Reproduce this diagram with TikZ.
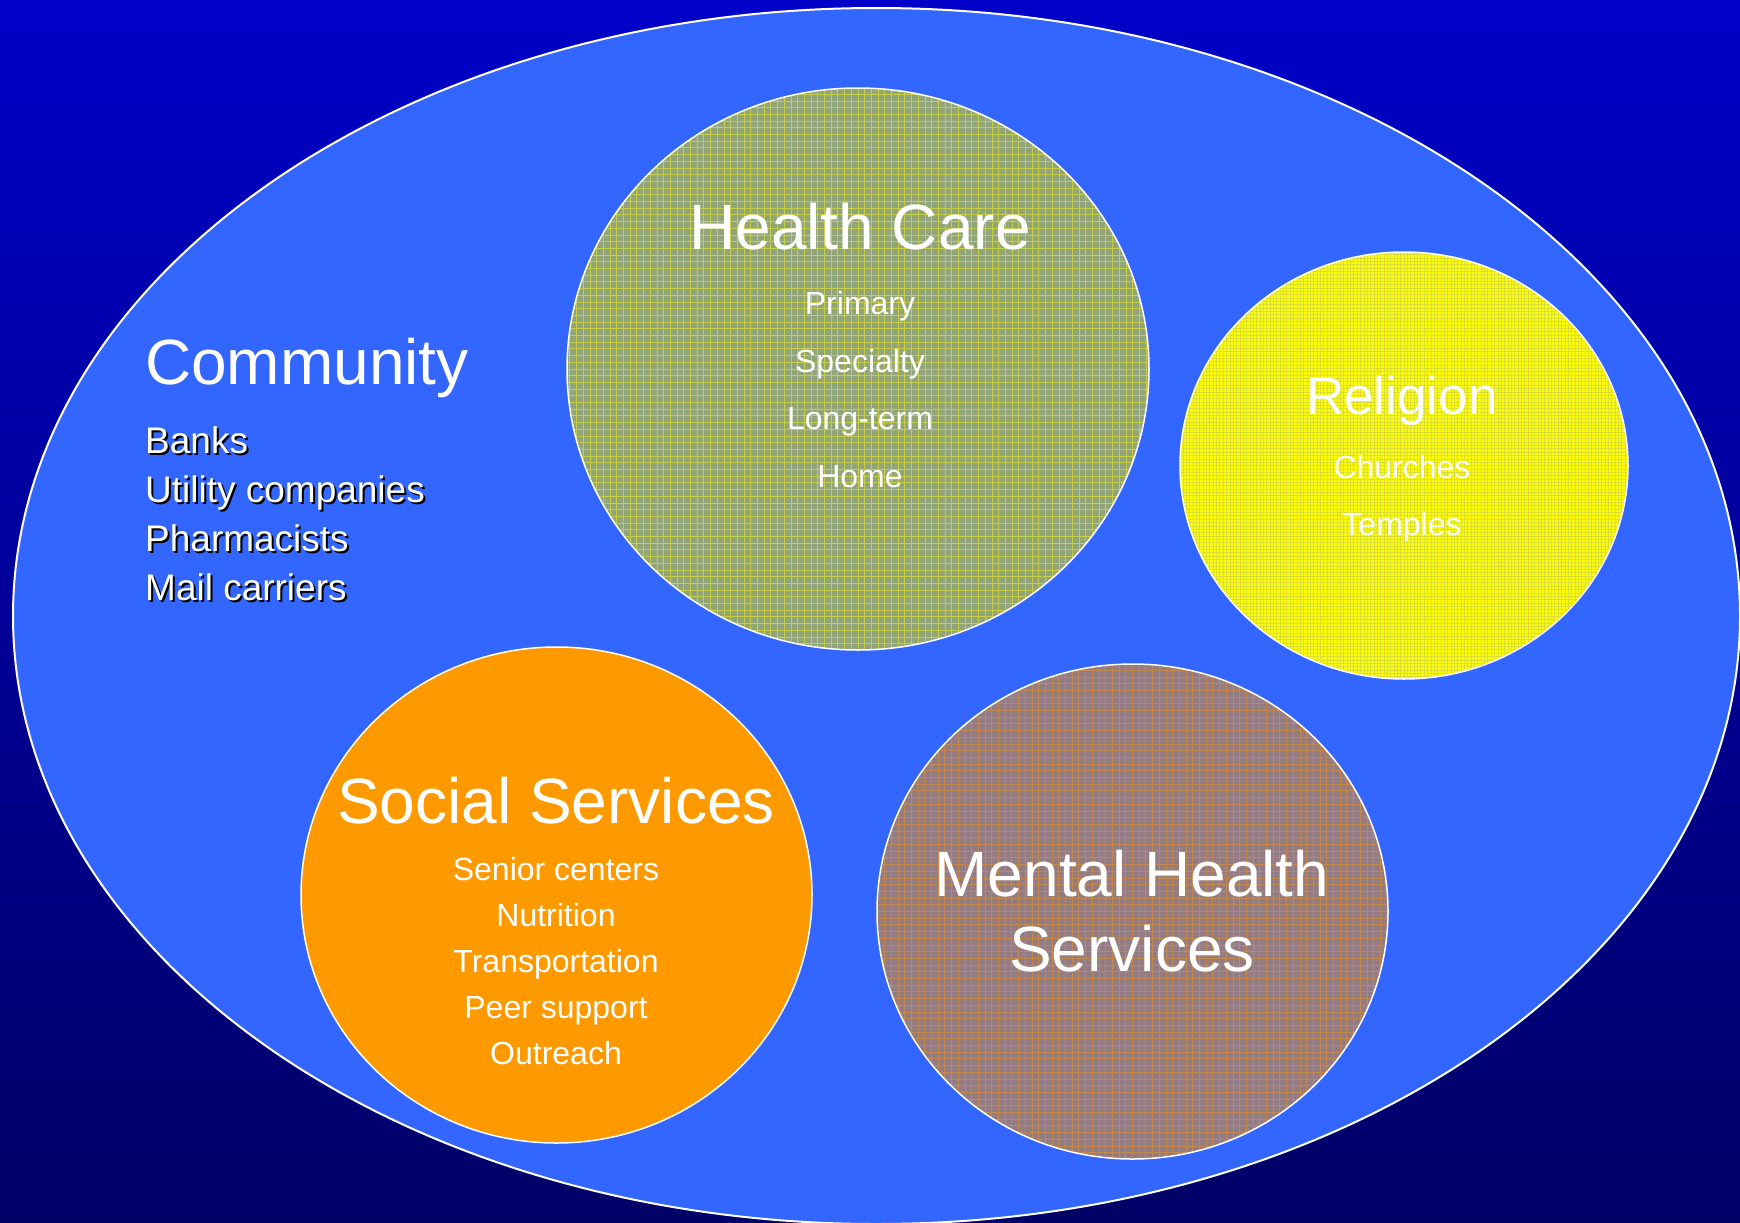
\documentclass[tikz,border=0pt]{standalone}
\usepackage{fontspec}
\setmainfont{Liberation Sans}
\usetikzlibrary{shapes.geometric}
\definecolor{bgtop}{RGB}{0,0,200}
\definecolor{bgbot}{RGB}{0,0,102}
\definecolor{comm}{RGB}{51,102,255}
\definecolor{hcbase}{RGB}{145,165,120}
\definecolor{hcline}{RGB}{240,240,30}
\definecolor{relbase}{RGB}{255,255,0}
\definecolor{relline}{RGB}{150,160,150}
\definecolor{ssfill}{RGB}{255,153,0}
\definecolor{mhbase}{RGB}{148,124,130}
\definecolor{mhline}{RGB}{240,150,30}
\tikzset{
  blob/.style={ellipse, draw=white, line width=1.5pt, inner sep=0pt},
  gridfill/.style n args={4}{path picture={\draw[#1, line width=#3, draw opacity=#4] (path picture bounding box.south west) grid[step=#2] (path picture bounding box.north east);}},
  ttl/.style={text=white, font=\fontsize{64}{64}\selectfont, anchor=base},
  itm/.style={text=white, font=\fontsize{32}{32}\selectfont, anchor=base},
  citm/.style={text=white, font=\fontsize{37}{37}\selectfont, anchor=base west, inner sep=0pt},
  shd/.style={text=black, font=\fontsize{37}{37}\selectfont, anchor=base west, inner sep=0pt},
}
\begin{document}
\begin{tikzpicture}[x=1pt,y=-1pt]
\useasboundingbox (0,0) rectangle (1740,1223);
\fill[top color=bgtop, bottom color=bgbot] (0,0) rectangle (1740,1223);
% community ellipse
\node[blob, fill=comm, line width=2pt, minimum width=1727pt, minimum height=1216pt] (comm) at (876.5,616) {};
% circles
\node[blob, fill=hcbase, gridfill={hcline}{6.7pt}{1pt}{0.55}, minimum width=582pt, minimum height=562pt] (hc) at (858,369) {};
\node[blob, fill=relbase, gridfill={relline}{3.35pt}{0.6pt}{0.35}, minimum width=448pt, minimum height=427pt] (rel) at (1404,465.5) {};
\node[blob, fill=ssfill, minimum width=511pt, minimum height=496pt] (ss) at (556.5,895) {};
\node[blob, fill=mhbase, gridfill={mhline}{6.7pt}{1pt}{0.5}, minimum width=511pt, minimum height=495pt] (mh) at (1132.5,911.5) {};
% Community text
\node[citm, font=\fontsize{64}{64}\selectfont] (ctitle) at (145,384) {Community};
\node[shd] (s1) at (147,455) {Banks};
\node[shd] (s2) at (147,504) {Utility companies};
\node[shd] (s3) at (147,553) {Pharmacists};
\node[shd] (s4) at (147,602) {Mail carriers};
\node[citm] (c1) at (145,453) {Banks};
\node[citm] (c2) at (145,502) {Utility companies};
\node[citm] (c3) at (145,551) {Pharmacists};
\node[citm] (c4) at (145,600) {Mail carriers};
% Health Care
\node[ttl] (hct) at (860,249) {Health Care};
\node[itm] (h1) at (860,314) {Primary};
\node[itm] (h2) at (860,372) {Specialty};
\node[itm] (h3) at (860,429) {Long-term};
\node[itm] (h4) at (860,487) {Home};
% Religion
\node[ttl, font=\fontsize{53}{53}\selectfont] (relt) at (1402,414) {Religion};
\node[itm] (r1) at (1402,478) {Churches};
\node[itm] (r2) at (1402,535) {Temples};
% Social Services
\node[ttl] (sst) at (556,823) {Social Services};
\node[itm] (ss1) at (556,880) {Senior centers};
\node[itm] (ss2) at (556,926) {Nutrition};
\node[itm] (ss3) at (556,972) {Transportation};
\node[itm] (ss4) at (556,1018) {Peer support};
\node[itm] (ss5) at (556,1064) {Outreach};
% Mental Health
\node[ttl] (mh1) at (1132,896) {Mental Health};
\node[ttl] (mh2) at (1132,971) {Services};
\end{tikzpicture}
\end{document}
